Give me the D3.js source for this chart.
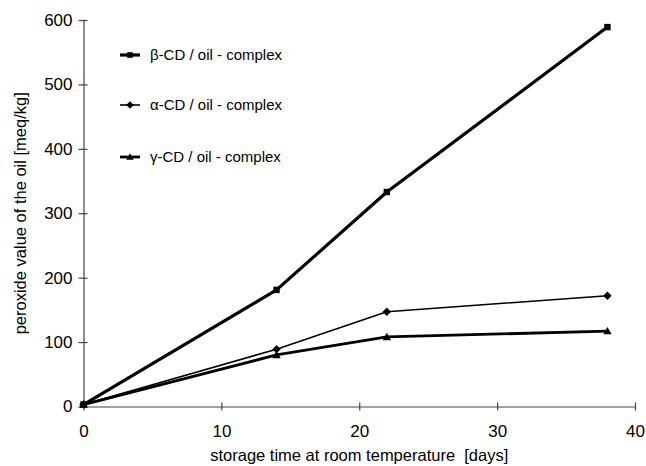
<!DOCTYPE html>
<html>
<head>
<meta charset="utf-8">
<script src="https://cdn.jsdelivr.net/npm/d3@7"></script>
<style>
  body { margin: 0; background: #fff; }
  svg text { font-family: "Liberation Sans", Arial, sans-serif; fill: #000; white-space: pre; }
</style>
</head>
<body>
<div id="chart"></div>
<script>
const w = 646;
const h = 466;

// storage time in days
const days = [0, 14, 22, 38];
// peroxide values [meq/kg]
const betaCD = [3, 181, 333, 589];
const alphaCD = [3, 89, 147, 172];
const gammaCD = [3, 80, 108, 117];

const seriesNames = ['β-CD / oil - complex', 'α-CD / oil - complex', 'γ-CD / oil - complex'];
const xTicks = [0, 10, 20, 30, 40];
const yTicks = [0, 100, 200, 300, 400, 500, 600];

const series = [
  { name: seriesNames[0], values: betaCD, width: 3.2, marker: 'square' },
  { name: seriesNames[1], values: alphaCD, width: 1.6, marker: 'diamond' },
  { name: seriesNames[2], values: gammaCD, width: 2.8, marker: 'triangle' }
];

const xScale = d3.scaleLinear().domain([0, 40]).range([83.5, 635]);
const yScale = d3.scaleLinear().domain([0, 600]).range([406.5, 20]);

const svg = d3.select('#chart')
              .append('svg')
              .attr('width', w)
              .attr('height', h);

// axes, ticks cross the axis line
const xAxis = d3.axisBottom(xScale).tickValues(xTicks).tickSize(0).tickPadding(25);
const yAxis = d3.axisLeft(yScale).tickValues(yTicks).tickSize(0).tickPadding(11);

const gx = svg.append('g')
   .attr('transform', 'translate(0,' + yScale(0) + ')')
   .call(xAxis);
gx.select('.domain').attr('stroke', '#444').attr('stroke-width', 1.2);
gx.selectAll('.tick line').attr('y1', -4).attr('y2', 4).attr('stroke', '#444').attr('stroke-width', 1.2);
gx.selectAll('.tick text').style('font-size', '17px').attr('dy', '0.35em');

const gy = svg.append('g')
   .attr('transform', 'translate(' + xScale(0) + ',0)')
   .call(yAxis);
gy.select('.domain').attr('stroke', '#444').attr('stroke-width', 1.2);
gy.selectAll('.tick line').attr('x1', -5).attr('x2', 4).attr('stroke', '#444').attr('stroke-width', 1.2);
gy.selectAll('.tick text').style('font-size', '17px');

// axis titles
svg.append('text')
   .attr('x', (xScale(0) + xScale(40)) / 2)
   .attr('y', 461)
   .attr('text-anchor', 'middle')
   .style('font-size', '16.5px')
   .text('storage time at room temperature  [days]');

svg.append('text')
   .attr('transform', 'translate(26,' + yScale(300) + ') rotate(-90)')
   .attr('text-anchor', 'middle')
   .style('font-size', '16.5px')
   .text('peroxide value of the oil [meq/kg]');

const line = d3.line()
  .x((d, i) => xScale(days[i]))
  .y(d => yScale(d));

function marker(g, type, x, y, s) {
  if (type === 'square') {
    g.append('rect').attr('x', x - s).attr('y', y - s).attr('width', 2 * s).attr('height', 2 * s).attr('fill', '#000');
  } else if (type === 'diamond') {
    g.append('path').attr('d', `M${x},${y - s - 1}L${x + s + 1},${y}L${x},${y + s + 1}L${x - s - 1},${y}Z`).attr('fill', '#000');
  } else {
    g.append('path').attr('d', `M${x},${y - s - 1}L${x + s + 1},${y + s}L${x - s - 1},${y + s}Z`).attr('fill', '#000');
  }
}

series.forEach(s => {
  svg.append('path')
     .datum(s.values)
     .attr('d', line)
     .attr('fill', 'none')
     .attr('stroke', '#000')
     .attr('stroke-width', s.width)
     .attr('stroke-linejoin', 'round');
  const g = svg.append('g');
  s.values.forEach((v, i) => marker(g, s.marker, xScale(days[i]), yScale(v), 3.2));
});

// legend
const legendY = [55, 105, 157];
series.forEach((s, i) => {
  const g = svg.append('g');
  g.append('line')
   .attr('x1', 120).attr('x2', 140)
   .attr('y1', legendY[i]).attr('y2', legendY[i])
   .attr('stroke', '#000')
   .attr('stroke-width', s.width);
  marker(g, s.marker, 130, legendY[i], 2.8);
  g.append('text')
   .attr('x', 150)
   .attr('y', legendY[i])
   .attr('dy', '0.35em')
   .style('font-size', '15px')
   .text(s.name);
});
</script>
</body>
</html>
